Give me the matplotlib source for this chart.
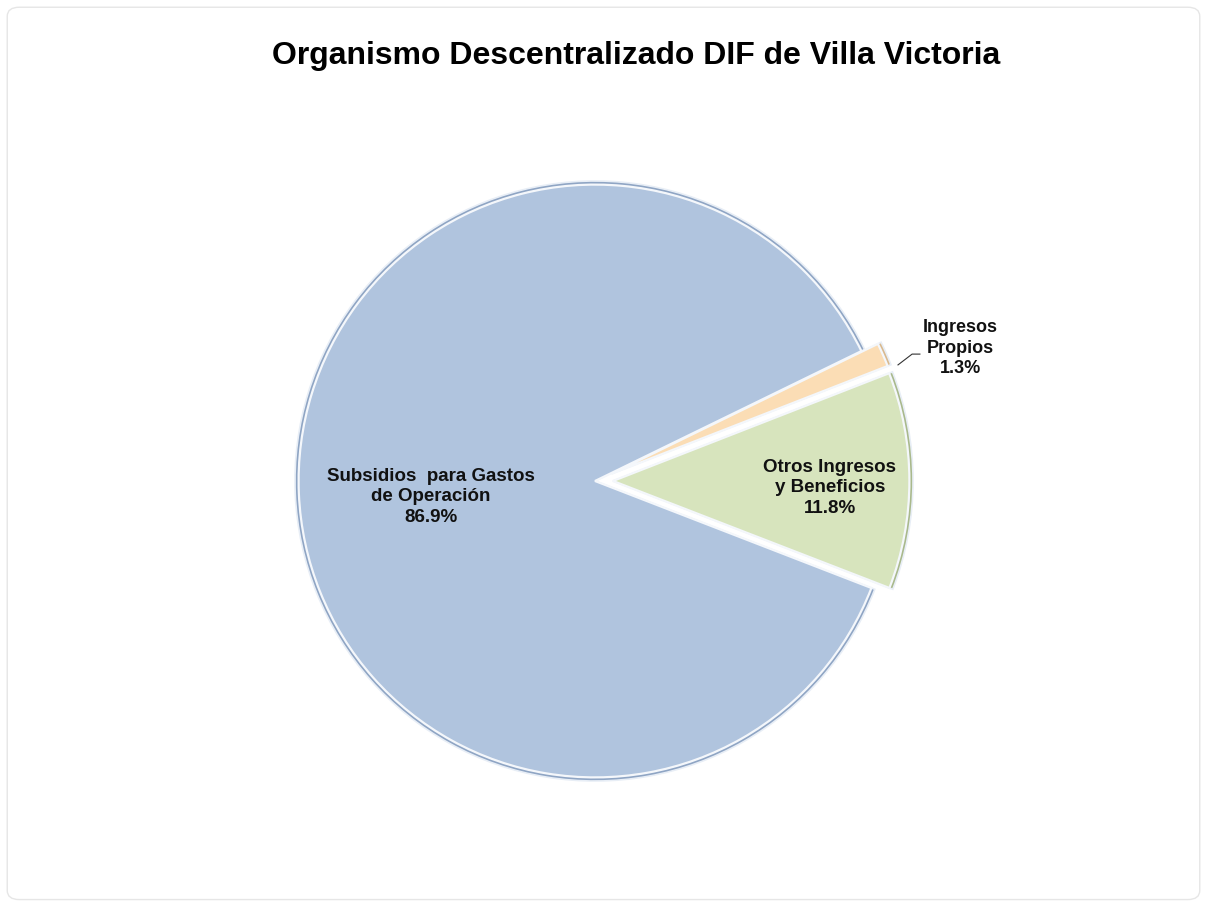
import matplotlib.pyplot as plt
from matplotlib.patches import FancyBboxPatch

# datos
categorias = ['Subsidios  para Gastos\nde Operación', 'Otros Ingresos\ny Beneficios', 'Ingresos\nPropios']
porcentajes = [86.9, 11.8, 1.3]
colores = ['#B0C4DE', '#D7E4BD', '#FBDDB5']
bordes = ['#8FA5C4', '#A9B98C', '#D9B98E']
separacion = [0.0, 0.06, 0.06]

plt.rcParams['font.family'] = ['Liberation Sans', 'DejaVu Sans']

fig = plt.figure(figsize=(12.07, 9.05), dpi=100)
fig.patch.set_facecolor('white')

# marco exterior
marco = FancyBboxPatch((0.006, 0.006), 0.988, 0.986, boxstyle='round,pad=0,rounding_size=0.01',
                       transform=fig.transFigure, facecolor='none', edgecolor='#E6E6E6', linewidth=1.0)
fig.patches.append(marco)

ax = fig.add_axes([0, 0, 1, 1])
ax.set_aspect('equal')
ax.axis('off')

# borde exterior
ax.pie(porcentajes, colors=bordes, startangle=26, explode=separacion, radius=1.0,
       wedgeprops=dict(edgecolor='#E8EEF6', linewidth=1.2))
# relleno interior
wedges, _ = ax.pie(porcentajes, colors=colores, startangle=26, explode=separacion, radius=0.988,
                   wedgeprops=dict(edgecolor='#F4F7FB', linewidth=1.6))
ax.set_xlim(-595 / 300, (1207 - 595) / 300)
ax.set_ylim(-424 / 300, (905 - 424) / 300)

etiquetas = [f'{c}\n{p:.1f}%' for c, p in zip(categorias, porcentajes)]
ax.text(-0.547, -0.053, etiquetas[0], ha='center', va='center', fontsize=13.5,
        fontweight='bold', color='#111111', linespacing=1.25)
ax.text(0.783, -0.023, etiquetas[1], ha='center', va='center', fontsize=13.5,
        fontweight='bold', color='#111111', linespacing=1.25)
ax.text(1.217, 0.443, etiquetas[2], ha='center', va='center', fontsize=13,
        fontweight='bold', color='#111111', linespacing=1.25)
ax.plot([1.01, 1.057, 1.083], [0.387, 0.423, 0.423], color='#333333', linewidth=0.8)

fig.text(0.527, 0.938, 'Organismo Descentralizado DIF de Villa Victoria', ha='center', va='center',
         fontsize=23, fontweight='bold', color='black')

fig.savefig('out.png', dpi=100, facecolor='white')
